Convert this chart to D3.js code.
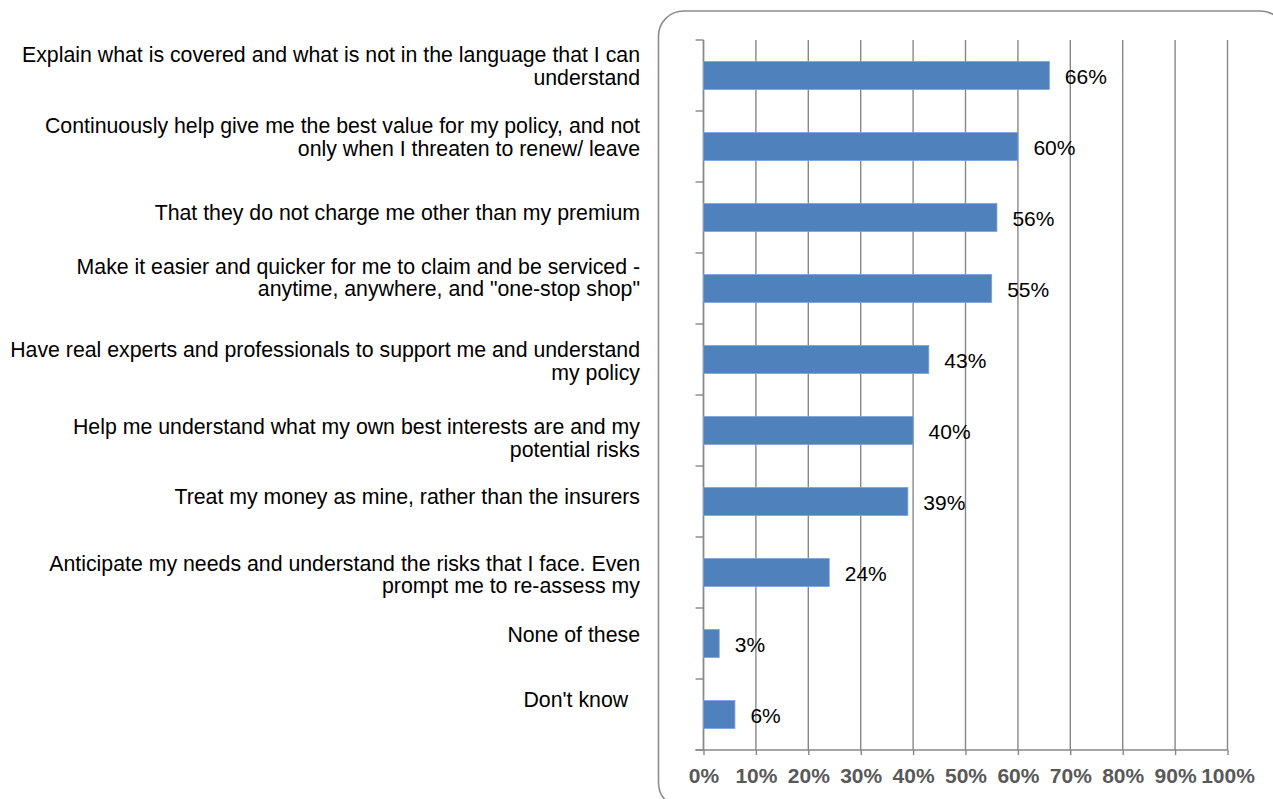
<!DOCTYPE html>
<html>
<head>
<meta charset="utf-8">
<script src="https://cdn.jsdelivr.net/npm/d3@7/dist/d3.min.js"></script>
<style>
  html, body { margin: 0; padding: 0; background: #ffffff; }
  svg { display: block; }
  text { font-family: "Liberation Sans", Arial, sans-serif; }
</style>
</head>
<body>
<svg id="chart" width="1273" height="799"></svg>
<script>
// Survey answers, top to bottom (each label split into its printed lines)
const categories = [
  ["Explain what is covered and what is not in the language that I can", "understand"],
  ["Continuously help give me the best value for my policy, and not", "only when I threaten to renew/ leave"],
  ["That they do not charge me other than my premium"],
  ["Make it easier and quicker for me to claim and be serviced -", "anytime, anywhere, and \"one-stop shop\""],
  ["Have real experts and professionals to support me and understand", "my policy"],
  ["Help me understand what my own best interests are and my", "potential risks"],
  ["Treat my money as mine, rather than the insurers"],
  ["Anticipate my needs and understand the risks that I face. Even", "prompt me to re-assess my"],
  ["None of these"],
  ["Don't know  "]
];

// Share of respondents choosing each answer
const values = [0.66, 0.60, 0.56, 0.55, 0.43, 0.40, 0.39, 0.24, 0.03, 0.06];

// Value-axis tick labels
const xTicks = [0, 0.1, 0.2, 0.3, 0.4, 0.5, 0.6, 0.7, 0.8, 0.9, 1.0];

// ---- layout ----
const plot = { left: 703.5, right: 1227.5, top: 40, bottom: 750 };
const gridColor = "#878787";
const barColor = "#4f81bd";

// vertical nudge of each category text block relative to its band centre
const labelShift = [-9.5, -9.5, -4.5, -11, 1.5, 7.5, -4.5, 2, -8.5, -14.5];
const lineGap = 22.5;

const svg = d3.select("#chart");
const ids = d3.range(categories.length);

const x = d3.scaleLinear().domain([0, 1]).range([plot.left, plot.right]);
const y = d3.scaleBand().domain(ids).range([plot.top, plot.bottom])
  .paddingInner(0.606).paddingOuter(0.303);

// chart frame with rounded corners
svg.append("rect")
  .attr("x", 658.5).attr("y", 11)
  .attr("width", 627).attr("height", 797)
  .attr("rx", 25).attr("ry", 25)
  .attr("fill", "none")
  .attr("stroke", "#8c8c8c")
  .attr("stroke-width", 1.6);

// vertical gridlines
svg.append("g")
  .selectAll("line")
  .data(xTicks)
  .join("line")
  .attr("x1", d => x(d)).attr("x2", d => x(d))
  .attr("y1", plot.top).attr("y2", plot.bottom)
  .attr("stroke", gridColor)
  .attr("stroke-width", 1.4);

// category axis: line and ticks at band boundaries
const step = y.step();
const boundaries = d3.range(categories.length + 1).map(i => plot.top + i * step);
const yAxis = svg.append("g");
yAxis.append("line")
  .attr("x1", plot.left).attr("x2", plot.left)
  .attr("y1", plot.top).attr("y2", plot.bottom)
  .attr("stroke", gridColor).attr("stroke-width", 1.4);
yAxis.selectAll("line.tick")
  .data(boundaries)
  .join("line")
  .attr("class", "tick")
  .attr("x1", plot.left - 8).attr("x2", plot.left)
  .attr("y1", d => d).attr("y2", d => d)
  .attr("stroke", gridColor).attr("stroke-width", 1.4);

// value axis along the bottom
const xAxis = d3.axisBottom(x)
  .tickValues(xTicks)
  .tickFormat(d3.format(".0%"))
  .tickSizeInner(5)
  .tickSizeOuter(0)
  .tickPadding(13);
const gx = svg.append("g")
  .attr("transform", `translate(0,${plot.bottom})`)
  .call(xAxis);
gx.select(".domain").remove();
gx.append("line")
  .attr("x1", plot.left - 8).attr("x2", plot.right)
  .attr("y1", 0).attr("y2", 0)
  .attr("stroke", gridColor).attr("stroke-width", 1.4);
gx.selectAll(".tick line").attr("stroke", gridColor).attr("stroke-width", 1.4);
gx.selectAll(".tick text")
  .attr("fill", "#595959")
  .attr("font-size", "21px")
  .attr("font-weight", "bold")
  .attr("font-family", "'Liberation Sans', Arial, sans-serif");

// bars
svg.append("g")
  .selectAll("rect")
  .data(values)
  .join("rect")
  .attr("x", x(0))
  .attr("y", (d, i) => y(i))
  .attr("width", d => x(d) - x(0))
  .attr("height", y.bandwidth())
  .attr("fill", barColor)
  .attr("stroke", "#7ba3d6")
  .attr("stroke-width", 0.8);

// value labels
svg.append("g")
  .selectAll("text")
  .data(values)
  .join("text")
  .attr("x", d => x(d) + 15.5)
  .attr("y", (d, i) => y(i) + y.bandwidth() / 2 + 1.5)
  .attr("dy", "0.35em")
  .attr("font-size", "21px")
  .attr("fill", "#000")
  .text(d => d3.format(".0%")(d));

// category labels, right aligned left of the plot
const labels = svg.append("g");
categories.forEach((lines, i) => {
  const centre = y(i) + y.bandwidth() / 2 + labelShift[i];
  const first = centre - (lines.length - 1) * lineGap / 2;
  const t = labels.append("text")
    .attr("text-anchor", "end")
    .attr("font-size", "21.3px")
    .attr("fill", "#000")
    .style("white-space", "pre");
  lines.forEach((ln, k) => {
    t.append("tspan")
      .attr("x", 640)
      .attr("y", first + k * lineGap)
      .attr("dy", "0.35em")
      .text(ln);
  });
});
</script>
</body>
</html>
